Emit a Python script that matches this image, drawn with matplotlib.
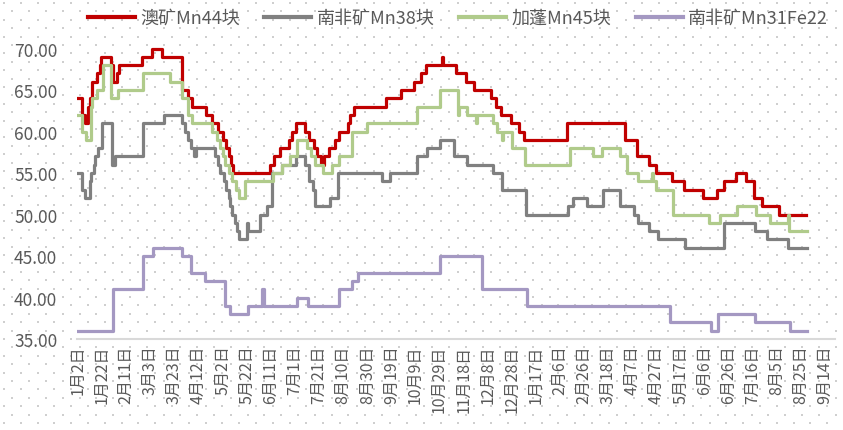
import numpy as np
import pandas as pd
import matplotlib
matplotlib.use("Agg")
import matplotlib.pyplot as plt
from matplotlib.lines import Line2D

plt.rcParams["font.family"] = ["Noto Sans CJK SC", "DejaVu Sans"]

start = pd.Timestamp("2022-01-02")

# Ore prices (yuan/dmtu) as change points: day offset from start -> new price
au_days = [0, 3, 6, 8, 10, 12, 16, 18, 19, 27, 29, 32, 34, 53, 61, 70, 86, 91, 95, 106,
           111, 116, 120, 123, 125, 127, 129, 159, 163, 168, 175, 178, 181, 188, 192, 196, 198, 202, 204, 208,
           213, 217, 224, 226, 229, 256, 268, 279, 285, 289, 302, 303, 314, 322, 329, 343, 347, 351, 359, 366,
           370, 406, 454, 464, 474, 480, 493, 503, 519, 530, 536, 546, 554, 561, 568, 582, 604]
au_vals = [64, 62, 61, 63, 64, 66, 67, 68, 69, 68, 66, 67, 68, 69, 70, 69, 65, 64, 63, 62,
           61, 60, 59, 58, 57, 56, 55, 56, 57, 58, 59, 60, 61, 60, 59, 58, 57, 56, 57, 58,
           59, 60, 61, 62, 63, 64, 65, 66, 67, 68, 69, 68, 67, 66, 65, 64, 63, 62, 61, 60,
           59, 61, 59, 57, 56, 55, 54, 53, 52, 53, 54, 55, 54, 52, 51, 50, 50]

sa38_days = [0, 3, 6, 10, 11, 13, 14, 17, 20, 28, 31, 54, 71, 86, 89, 91, 94, 96, 98, 114,
             116, 118, 121, 123, 125, 126, 128, 130, 132, 134, 140, 141, 151, 157, 161, 169, 181, 188, 192, 195,
             197, 209, 216, 252, 259, 281, 290, 300, 312, 323, 344, 352, 372, 407, 411, 422, 436, 450, 461, 465,
             474, 481, 504, 536, 562, 572, 589, 605]
sa38_vals = [55, 53, 52, 54, 55, 56, 57, 58, 61, 56, 57, 61, 62, 61, 60, 59, 58, 57, 58, 57,
             56, 55, 54, 53, 52, 51, 50, 49, 48, 47, 49, 48, 50, 51, 55, 56, 57, 56, 54, 53,
             51, 52, 55, 54, 55, 57, 58, 59, 57, 56, 55, 53, 50, 51, 52, 51, 53, 51, 50, 49,
             48, 47, 46, 49, 48, 47, 46, 46]

gb_days = [0, 3, 7, 11, 12, 16, 21, 27, 33, 54, 76, 86, 91, 95, 111, 115, 118, 120, 122, 125,
           128, 131, 134, 139, 162, 169, 176, 182, 190, 193, 197, 203, 211, 217, 227, 240, 281, 300, 315, 316,
           323, 330, 331, 344, 348, 352, 353, 360, 371, 408, 427, 435, 450, 456, 465, 476, 477, 480, 494, 524,
           533, 547, 563, 574, 589, 590, 605]
gb_vals = [62, 60, 59, 63, 64, 65, 68, 64, 65, 67, 66, 64, 62, 61, 60, 59, 58, 57, 56, 55,
           54, 53, 52, 54, 55, 56, 57, 59, 58, 57, 56, 55, 56, 57, 60, 61, 63, 65, 62, 63,
           62, 61, 62, 61, 60, 59, 60, 58, 56, 58, 57, 58, 57, 55, 54, 55, 54, 53, 50, 49,
           50, 51, 50, 49, 50, 48, 48]

sa31_days = [0, 29, 54, 62, 86, 94, 105, 122, 126, 141, 153, 154, 182, 191, 217, 227, 232, 300, 335, 373,
             491, 525, 531, 562, 591, 605]
sa31_vals = [36, 41, 45, 46, 45, 43, 42, 39, 38, 39, 41, 39, 40, 39, 41, 42, 43, 45, 41, 39,
             37, 36, 38, 37, 36, 36]

series = [
    ("澳矿Mn44块", au_days, au_vals, "#C00000"),
    ("南非矿Mn38块", sa38_days, sa38_vals, "#808080"),
    ("加蓬Mn45块", gb_days, gb_vals, "#B0CB8B"),
    ("南非矿Mn31Fe22", sa31_days, sa31_vals, "#A498C2"),
]

tick_days = list(range(0, 621, 20))
tick_dates = [start + pd.Timedelta(days=d) for d in tick_days]
tick_labels = [f"{d.month}月{d.day}日" for d in tick_dates]

W, H = 843, 431
fig = plt.figure(figsize=(W / 100, H / 100), dpi=100)

# dotted pattern fill behind the whole chart
bg = fig.add_axes([0, 0, 1, 1], zorder=0)
bg.set_xlim(0, W)
bg.set_ylim(H, 0)
bg.axis("off")
step = 8.4
xs = np.arange(4, W, step)
ys = np.arange(4, H, step)
gx, gy = np.meshgrid(np.arange(len(xs)), np.arange(len(ys)))
mask = (gx + gy) % 2 == 0
bg.scatter(xs[gx[mask]], ys[gy[mask]], s=1.5, marker="s", color="#cfcfcf", linewidths=0)

# plot area in pixel terms
px_day = 1.205
x0_px = 78
left_px = x0_px - 1 * px_day
right_px = x0_px + 628 * px_day
ppu = 8.3
bottom_px = 340
top_px = bottom_px - 35.5 * ppu
ax = fig.add_axes([left_px / W, 1 - bottom_px / H,
                   (right_px - left_px) / W, (bottom_px - top_px) / H], zorder=1)
ax.patch.set_alpha(0)

for name, days, vals, color in series:
    ax.plot(days, vals, drawstyle="steps-post", color=color, lw=2.3, label=name)

ax.set_xlim(-1, 628)
ax.set_ylim(35, 70.5)
ax.set_yticks(range(35, 71, 5))
ax.set_yticklabels([f"{v:.2f}" for v in range(35, 71, 5)])
ax.set_xticks(tick_days)
ax.set_xticklabels(tick_labels, rotation=90)

for side in ["top", "right", "left"]:
    ax.spines[side].set_visible(False)
ax.spines["bottom"].set_color("#d9d9d9")
ax.spines["bottom"].set_linewidth(1.5)
ax.tick_params(axis="both", length=0, colors="#595959")
ax.tick_params(axis="y", labelsize=12.5, pad=14)
ax.tick_params(axis="x", labelsize=11.5, pad=4)

handles = [Line2D([], [], color=c, lw=3) for _, _, _, c in series]
fig.legend(handles, [s[0] for s in series], loc="center left",
           bbox_to_anchor=(88 / W, 1 - 19 / H), ncol=4, frameon=False,
           fontsize=13, labelcolor="#595959", handlelength=2.6,
           handletextpad=0.3, columnspacing=1.35, borderpad=0, borderaxespad=0)

fig.savefig("out.png", dpi=100)
